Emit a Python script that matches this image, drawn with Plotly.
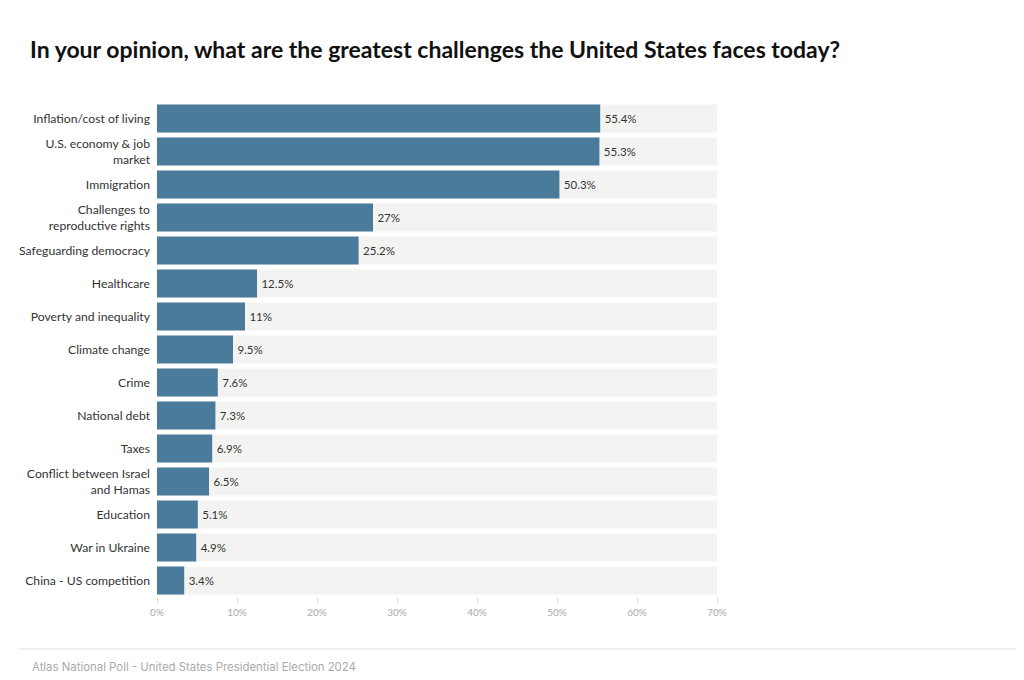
import plotly.graph_objects as go

categories = [
    "Inflation/cost of living",
    "U.S. economy & job<br>market",
    "Immigration",
    "Challenges to<br>reproductive rights",
    "Safeguarding democracy",
    "Healthcare",
    "Poverty and inequality",
    "Climate change",
    "Crime",
    "National debt",
    "Taxes",
    "Conflict between Israel<br>and Hamas",
    "Education",
    "War in Ukraine",
    "China - US competition",
]
values = [55.4, 55.3, 50.3, 27, 25.2, 12.5, 11, 9.5, 7.6, 7.3, 6.9, 6.5, 5.1, 4.9, 3.4]
tick_vals = [0, 10, 20, 30, 40, 50, 60, 70]
tick_text = ["0%", "10%", "20%", "30%", "40%", "50%", "60%", "70%"]
axis_max = 70

# page has an 8px body margin; work in screenshot coordinates
OFF = 8
W, H = 1016, 672
ml, mr, mt, mb = 157 - OFF, 307, 102 - OFF, 83
pw = W - ml - mr
ph = H - mt - mb

def px_x(x):
    return (x - OFF - ml) / pw

def px_y(y):
    return (H - mb - (y - OFF)) / ph

fig = go.Figure()
fig.add_trace(go.Bar(
    y=categories, x=[axis_max] * len(categories), orientation="h",
    marker=dict(color="#f3f3f2", line=dict(width=0)),
    hoverinfo="skip", showlegend=False,
))
fig.add_trace(go.Bar(
    y=categories, x=values, orientation="h",
    marker=dict(color="#4b7b9a", line=dict(width=0)),
    text=[f"\u2009{v:g}%" for v in values], textposition="outside",
    textfont=dict(family="Lato", size=11.5, color="#333333"),
    cliponaxis=False, showlegend=False,
))

fig.update_layout(
    width=W, height=H,
    margin=dict(l=ml, r=mr, t=mt, b=mb, autoexpand=False),
    paper_bgcolor="white", plot_bgcolor="white",
    barmode="overlay", bargap=0.15,
    font=dict(family="Lato", size=12, color="#333333"),
    title=dict(
        text="<b>In your opinion, what are the greatest challenges the United States faces today?</b>",
        xref="container", yref="container", x=(30 - OFF) / W, y=1 - (50 - OFF) / H,
        xanchor="left", yanchor="middle",
        font=dict(family="Lato", size=23, color="#111111"),
    ),
    xaxis=dict(
        range=[0, axis_max], tickvals=tick_vals, ticktext=tick_text,
        showgrid=False, zeroline=False, showline=False,
        ticks="outside", ticklen=6, tickcolor="#dddddd", tickwidth=1,
        tickfont=dict(family="Lato", size=10, color="#aaaaaa"),
        fixedrange=True,
    ),
    yaxis=dict(
        autorange="reversed", showgrid=False, zeroline=False, showline=False,
        ticks="", ticklabelstandoff=6,
        tickfont=dict(family="Lato", size=12.2, color="#333333"),
        fixedrange=True,
    ),
    shapes=[dict(
        type="line", xref="paper", yref="paper",
        x0=px_x(18), x1=px_x(1024), y0=px_y(649), y1=px_y(649),
        line=dict(color="#e3e3e3", width=1),
    )],
    annotations=[dict(
        text="Atlas National Poll - United States Presidential Election 2024",
        xref="paper", yref="paper", x=px_x(30), y=px_y(667),
        xanchor="left", yanchor="middle", showarrow=False,
        font=dict(family="Inter", size=11.4, color="#aaaaaa"),
    )],
)

fig.write_html("out.html")
